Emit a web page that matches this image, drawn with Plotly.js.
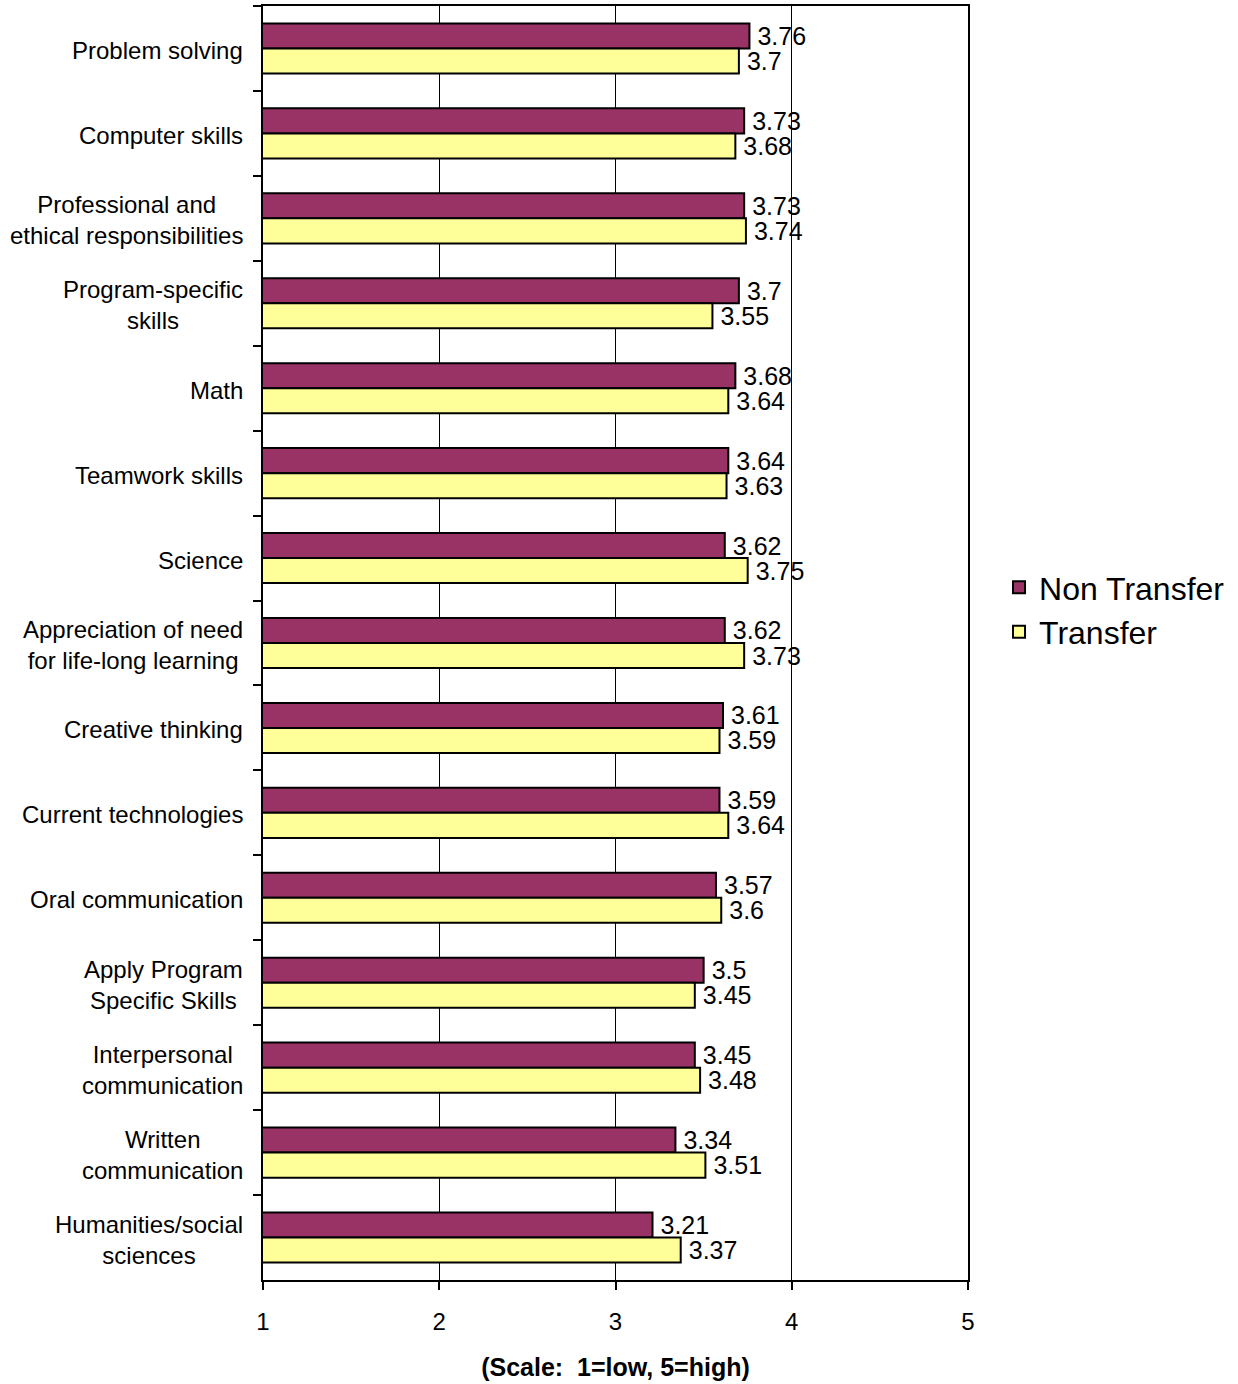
<!DOCTYPE html>
<html>
<head>
<meta charset="utf-8">
<script src="https://cdn.plot.ly/plotly-3.0.1.min.js"></script>
<style>html,body{margin:0;padding:0;background:#fff;}#chart{width:1238px;height:1384px;}</style>
</head>
<body>
<div id="chart"></div>
<script>
const categories = [
  "Problem solving",
  "Computer skills",
  "Professional and<br>ethical responsibilities",
  "Program-specific<br>skills",
  "Math",
  "Teamwork skills",
  "Science",
  "Appreciation of need<br>for life-long learning",
  "Creative thinking",
  "Current technologies",
  "Oral communication",
  "Apply Program<br>Specific Skills",
  "Interpersonal<br>communication",
  "Written<br>communication",
  "Humanities/social<br>sciences"
];
const nonTransfer = [3.76, 3.73, 3.73, 3.7, 3.68, 3.64, 3.62, 3.62, 3.61, 3.59, 3.57, 3.5, 3.45, 3.34, 3.21];
const transfer = [3.7, 3.68, 3.74, 3.55, 3.64, 3.63, 3.75, 3.73, 3.59, 3.64, 3.6, 3.45, 3.48, 3.51, 3.37];
const seriesNames = ["Non Transfer", "Transfer"];
const xTickVals = [1, 2, 3, 4, 5];

const font = "Arial, 'Liberation Sans', sans-serif";
function mk(name, vals, color) {
  return {
    type: "bar", orientation: "h", name: name,
    y: categories, x: vals,
    text: vals.map(v => "\u2009" + String(v)), textposition: "outside",
    constraintext: "none",
    textfont: {family: font, size: 25, color: "#000"},
    cliponaxis: false,
    marker: {color: color, line: {color: "#000", width: 2}}
  };
}
const data = [mk(seriesNames[0], nonTransfer, "#993366"), mk(seriesNames[1], transfer, "#FFFF99")];
const catLabels = categories.map(c => ({
  xref: "paper", x: 0, xanchor: "right", xshift: -18,
  yref: "y", y: c, yanchor: "middle", yshift: -2,
  text: c, showarrow: false, align: "center",
  font: {family: font, size: 24, color: "#000"}
}));
const layout = {
  width: 1238, height: 1384,
  margin: {l: 263, r: 270, t: 6, b: 104},
  paper_bgcolor: "#fff", plot_bgcolor: "#fff",
  barmode: "group", bargap: 0.41, bargroupgap: 0,
  font: {family: font, color: "#000"},
  showlegend: true,
  legend: {x: 1.044, y: 0.526, xanchor: "left", yanchor: "middle",
    font: {family: font, size: 32, color: "#000"}, traceorder: "normal"},
  annotations: catLabels,
  xaxis: {range: [1, 5], tickvals: xTickVals, ticktext: xTickVals.map(String),
    showgrid: true, gridcolor: "#000", gridwidth: 1, zeroline: false,
    showline: true, linecolor: "#000", linewidth: 2, mirror: true,
    ticks: "outside", ticklen: 8, tickwidth: 2, tickcolor: "#000",
    tickfont: {family: font, size: 24}, ticklabelstandoff: 11,
    title: {text: "<b>(Scale:\u00a0\u00a01=low, 5=high)</b>", font: {family: font, size: 25}, standoff: 25}},
  yaxis: {type: "category", autorange: "reversed", tickson: "boundaries",
    showgrid: false, showline: true, linecolor: "#000", linewidth: 2, mirror: true,
    ticks: "outside", ticklen: 8, tickwidth: 2, tickcolor: "#000",
    showticklabels: false}
};
Plotly.newPlot("chart", data, layout, {displayModeBar: false});
</script>
</body>
</html>
